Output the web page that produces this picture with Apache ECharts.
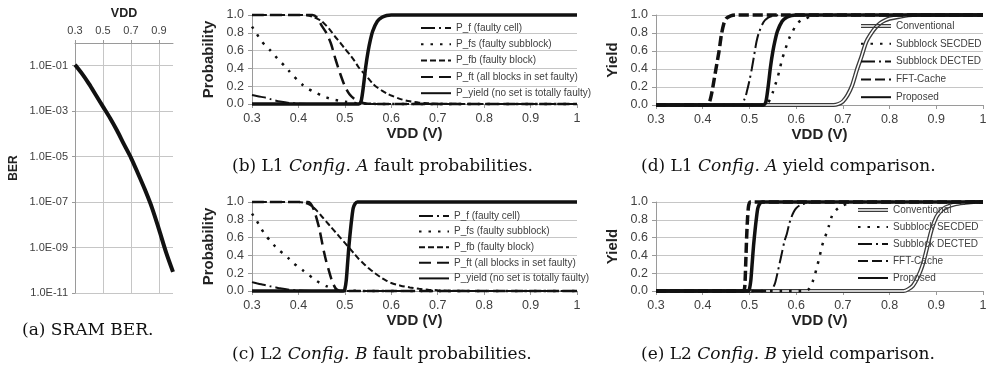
<!DOCTYPE html>
<html><head><meta charset="utf-8">
<script src="https://cdn.jsdelivr.net/npm/echarts/dist/echarts.min.js"></script>
<style>html,body{margin:0;padding:0;background:#fff}#c{width:990px;height:370px}</style>
</head><body><div id="c"></div>
<script>
// ---------- (a) SRAM BER ----------
const berVdd = [0.30,0.35,0.40,0.45,0.50,0.55,0.60,0.65,0.70,0.75,0.80,0.85,0.90,0.95,1.00];
const berValues = [1.1e-1,4.47e-2,1.58e-2,5.0e-3,1.58e-3,5.0e-4,1.41e-4,3.47e-5,8.9e-6,1.82e-6,3.47e-7,5.6e-8,6.3e-9,6.3e-10,8.5e-11];
const berTicks = ['1.0E-11','1.0E-09','1.0E-07','1.0E-05','1.0E-03','1.0E-01'];

// ---------- (b) L1 Config. A fault probabilities ----------
const l1_pf = [[0.30,0.10],[0.31,0.09],[0.32,0.08],[0.33,0.07],[0.34,0.055],[0.35,0.04],[0.36,0.028],[0.38,0.012],[0.40,0.004],[0.43,0.001],[0.46,0],[1.00,0]];
const l1_pfs = [[0.30,0.87],[0.31,0.79],[0.32,0.71],[0.33,0.65],[0.34,0.60],[0.35,0.54],[0.36,0.48],[0.37,0.43],[0.38,0.37],[0.39,0.31],[0.40,0.26],[0.41,0.21],[0.42,0.175],[0.43,0.145],[0.44,0.12],[0.45,0.095],[0.46,0.075],[0.47,0.058],[0.48,0.045],[0.49,0.034],[0.50,0.025],[0.52,0.012],[0.54,0.005],[0.57,0.001],[0.60,0],[1.00,0]];
const l1_pfb = [[0.30,1],[0.40,1],[0.42,0.995],[0.43,0.98],[0.44,0.96],[0.45,0.93],[0.46,0.88],[0.47,0.82],[0.48,0.75],[0.49,0.69],[0.50,0.62],[0.51,0.56],[0.52,0.49],[0.53,0.41],[0.54,0.35],[0.55,0.29],[0.56,0.23],[0.57,0.185],[0.58,0.15],[0.59,0.12],[0.60,0.095],[0.62,0.055],[0.64,0.03],[0.66,0.015],[0.68,0.008],[0.70,0.004],[0.75,0.001],[0.80,0],[1.00,0]];
const l1_pft = [[0.30,1],[0.43,1],[0.44,0.97],[0.45,0.88],[0.46,0.80],[0.47,0.68],[0.48,0.50],[0.49,0.34],[0.50,0.20],[0.51,0.11],[0.52,0.06],[0.53,0.03],[0.54,0.012],[0.55,0.004],[0.57,0],[1.00,0]];
const l1_yield = [[0.30,0],[0.53,0],[0.535,0.03],[0.54,0.20],[0.545,0.42],[0.55,0.59],[0.555,0.72],[0.56,0.82],[0.57,0.93],[0.58,0.975],[0.59,0.995],[0.60,1],[1.00,1]];

// ---------- (c) L2 Config. B fault probabilities ----------
const l2_pf = [[0.30,0.10],[0.31,0.087],[0.32,0.075],[0.33,0.065],[0.34,0.052],[0.35,0.042],[0.36,0.03],[0.38,0.014],[0.40,0.005],[0.43,0.001],[0.46,0],[1.00,0]];
const l2_pfs = [[0.30,0.87],[0.31,0.79],[0.32,0.70],[0.33,0.62],[0.34,0.56],[0.35,0.50],[0.36,0.45],[0.37,0.41],[0.38,0.36],[0.39,0.31],[0.40,0.27],[0.41,0.23],[0.42,0.19],[0.43,0.15],[0.44,0.11],[0.45,0.08],[0.46,0.055],[0.47,0.035],[0.48,0.02],[0.49,0.01],[0.50,0.005],[0.53,0.001],[0.56,0],[1.00,0]];
const l2_pfb = [[0.30,1],[0.40,1],[0.41,0.995],[0.42,0.98],[0.43,0.95],[0.44,0.90],[0.45,0.84],[0.46,0.78],[0.47,0.72],[0.48,0.66],[0.49,0.60],[0.50,0.54],[0.51,0.48],[0.52,0.42],[0.53,0.36],[0.54,0.31],[0.55,0.26],[0.56,0.22],[0.57,0.18],[0.58,0.145],[0.59,0.115],[0.60,0.09],[0.62,0.06],[0.64,0.04],[0.66,0.025],[0.68,0.015],[0.70,0.008],[0.72,0.004],[0.76,0.001],[0.80,0],[1.00,0]];
const l2_pft = [[0.30,1],[0.42,1],[0.425,0.99],[0.43,0.95],[0.435,0.89],[0.44,0.80],[0.445,0.70],[0.45,0.57],[0.455,0.44],[0.46,0.33],[0.465,0.24],[0.47,0.15],[0.475,0.08],[0.48,0.03],[0.485,0.01],[0.49,0],[1.00,0]];
const l2_yield = [[0.30,0],[0.498,0],[0.50,0.02],[0.503,0.12],[0.506,0.32],[0.509,0.52],[0.512,0.68],[0.515,0.82],[0.518,0.93],[0.522,0.98],[0.527,1],[1.00,1]];

// ---------- (d) L1 Config. A yield comparison ----------
const l1_conv = [[0.30,0],[0.68,0],[0.69,0.01],[0.70,0.04],[0.71,0.11],[0.72,0.22],[0.73,0.39],[0.74,0.54],[0.75,0.70],[0.76,0.79],[0.77,0.86],[0.78,0.91],[0.79,0.94],[0.80,0.96],[0.82,0.98],[0.85,1],[1.00,1]];
const l1_secded = [[0.30,0],[0.535,0],[0.54,0.02],[0.545,0.08],[0.55,0.14],[0.555,0.22],[0.56,0.30],[0.565,0.40],[0.57,0.51],[0.575,0.59],[0.58,0.67],[0.585,0.74],[0.59,0.79],[0.60,0.89],[0.61,0.94],[0.62,0.96],[0.63,0.98],[0.65,1],[1.00,1]];
const l1_dected = [[0.30,0],[0.48,0],[0.49,0.07],[0.495,0.16],[0.50,0.27],[0.505,0.40],[0.51,0.55],[0.515,0.70],[0.52,0.80],[0.53,0.92],[0.54,0.97],[0.55,0.99],[0.57,1],[1.00,1]];
const l1_fft = [[0.30,0],[0.41,0],[0.415,0.04],[0.42,0.15],[0.425,0.30],[0.43,0.45],[0.435,0.60],[0.44,0.78],[0.445,0.90],[0.45,0.96],[0.46,0.99],[0.47,1],[1.00,1]];
const l1_proposed = l1_yield;

// ---------- (e) L2 Config. B yield comparison ----------
const l2_conv = [[0.30,0],[0.83,0],[0.84,0.02],[0.85,0.06],[0.86,0.15],[0.87,0.28],[0.88,0.48],[0.89,0.69],[0.90,0.83],[0.91,0.90],[0.92,0.94],[0.94,0.975],[0.96,0.99],[0.98,1],[1.00,1]];
const l2_secded = [[0.30,0],[0.62,0],[0.625,0.01],[0.63,0.04],[0.635,0.10],[0.64,0.18],[0.645,0.28],[0.65,0.38],[0.655,0.50],[0.66,0.58],[0.665,0.65],[0.67,0.73],[0.675,0.82],[0.68,0.88],[0.69,0.93],[0.70,0.96],[0.715,0.99],[0.73,1],[1.00,1]];
const l2_dected = [[0.30,0],[0.545,0],[0.55,0.03],[0.555,0.09],[0.56,0.20],[0.565,0.32],[0.57,0.44],[0.575,0.56],[0.58,0.64],[0.585,0.75],[0.59,0.83],[0.595,0.89],[0.60,0.93],[0.61,0.97],[0.62,0.985],[0.64,1],[1.00,1]];
const l2_fft = [[0.30,0],[0.487,0],[0.49,0.05],[0.492,0.30],[0.494,0.60],[0.496,0.82],[0.498,0.95],[0.50,0.99],[0.502,1],[1.00,1]];
const l2_proposed = l2_yield;

const faultNames = ['P_f (faulty cell)','P_fs (faulty subblock)','P_fb (faulty block)','P_ft (all blocks in set faulty)','P_yield (no set is totally faulty)'];
const yieldNames = ['Conventional','Subblock SECDED','Subblock DECTED','FFT-Cache','Proposed'];
const captions = ['(a) SRAM BER.','(b) L1 {i|Config. A} fault probabilities.','(c) L2 {i|Config. B} fault probabilities.','(d) L1 {i|Config. A} yield comparison.','(e) L2 {i|Config. B} yield comparison.'];

// ---------- styles ----------
const SANS = 'Liberation Sans';
const SERIF = 'DejaVu Serif';
const INK = '#111';
const ST = {
  pf:   {color:INK, width:2, type:[14,4,2,4]},
  pfs:  {color:INK, width:2.5, type:[2.5,7]},
  pfb:  {color:INK, width:2, type:[6,3]},
  pft:  {color:INK, width:2.5, type:[12,6]},
  solid:{color:INK, width:3.5, type:'solid'},
  fft:  {color:INK, width:3.5, type:[10,4]},
  convOuter:{color:'#3a3a3a', width:4.2, type:'solid'},
  convInner:{color:'#ffffff', width:1.6, type:'solid'}
};

function ser(name, data, idx, ls) {
  return {
    name: name, type:'line', data: data, xAxisIndex: idx, yAxisIndex: idx,
    symbol:'none', smooth:0.25, clip:false, color: ls.color,
    lineStyle: {color: ls.color, width: ls.width, type: ls.type},
    emphasis:{disabled:true}, animation:false
  };
}

const gridBox = [
  {left:75, top:43, width:98, height:250},
  {left:252, top:15, width:325, height:89},
  {left:252, top:202, width:325, height:89},
  {left:656, top:15, width:327, height:90},
  {left:656, top:202, width:327, height:89}
];

const axisLineGrey = '#9a9a9a';
const gridGrey = '#c6c6c6';

function xProb(i) {
  return {gridIndex:i, type:'value', min:0.3, max:1, interval:0.1,
    name:'VDD (V)', nameLocation:'middle', nameGap:21,
    nameTextStyle:{fontFamily:SANS, fontSize:15, fontWeight:'bold', color:'#222'},
    axisLine:{show:true, onZero:false, lineStyle:{color:axisLineGrey}},
    axisTick:{show:true, length:4, lineStyle:{color:axisLineGrey}},
    axisLabel:{fontFamily:SANS, fontSize:12.5, color:'#404040', margin:8,
      formatter: v => Math.abs(v-1)<1e-6 ? '1' : v.toFixed(1)},
    splitLine:{show:false}};
}
function yProb(i, name) {
  return {gridIndex:i, type:'value', min:0, max:1, interval:0.2,
    name:name, nameLocation:'middle', nameGap:36,
    nameTextStyle:{fontFamily:SANS, fontSize:15, fontWeight:'bold', color:'#222'},
    axisLine:{show:true, lineStyle:{color:axisLineGrey}},
    axisTick:{show:true, length:4, lineStyle:{color:axisLineGrey}},
    axisLabel:{fontFamily:SANS, fontSize:12.5, color:'#404040', margin:8, formatter: v => v.toFixed(1)},
    splitLine:{show:true, lineStyle:{color:gridGrey}}};
}

const xAxes = [
  {gridIndex:0, type:'value', position:'top', min:0.3, max:1, interval:0.2,
    name:'VDD', nameLocation:'middle', nameGap:22,
    nameTextStyle:{fontFamily:SANS, fontSize:12.5, fontWeight:'bold', color:'#222'},
    axisLine:{show:true, onZero:false, lineStyle:{color:axisLineGrey}},
    axisTick:{show:true, length:3, lineStyle:{color:axisLineGrey}},
    axisLabel:{fontFamily:SANS, fontSize:11, color:'#404040', margin:7, showMaxLabel:false,
      formatter: v => v.toFixed(1)},
    splitLine:{show:true, showMaxLine:false, lineStyle:{color:gridGrey}}},
  xProb(1), xProb(2), xProb(3), xProb(4)
];
const yAxes = [
  {gridIndex:0, type:'value', min:-11, max:0, interval:2,
    name:'BER', nameLocation:'middle', nameGap:55,
    nameTextStyle:{fontFamily:SANS, fontSize:12, fontWeight:'bold', color:'#222'},
    axisLine:{show:true, onZero:false, lineStyle:{color:axisLineGrey}},
    axisTick:{show:true, length:3, lineStyle:{color:axisLineGrey}},
    axisLabel:{fontFamily:SANS, fontSize:11, color:'#404040', margin:7, showMaxLabel:false,
      formatter: v => { const k = Math.round((v + 11) / 2); return berTicks[k] || ''; }},
    splitLine:{show:true, lineStyle:{color:gridGrey}}},
  yProb(1,'Probability'), yProb(2,'Probability'), yProb(3,'Yield'), yProb(4,'Yield')
];

const berSeries = {
  name:'BER', type:'line', xAxisIndex:0, yAxisIndex:0, symbol:'none', smooth:0.3, clip:false,
  data: berVdd.map((v,i) => [v, Math.log10(berValues[i])]),
  lineStyle:{color:INK, width:4}, color:INK, emphasis:{disabled:true}, animation:false
};

const series = [
  berSeries,
  ser(faultNames[0], l1_pf, 1, ST.pf),
  ser(faultNames[1], l1_pfs, 1, ST.pfs),
  ser(faultNames[2], l1_pfb, 1, ST.pfb),
  ser(faultNames[3], l1_pft, 1, ST.pft),
  ser(faultNames[4], l1_yield, 1, ST.solid),
  ser(faultNames[0], l2_pf, 2, ST.pf),
  ser(faultNames[1], l2_pfs, 2, ST.pfs),
  ser(faultNames[2], l2_pfb, 2, ST.pfb),
  ser(faultNames[3], l2_pft, 2, ST.pft),
  ser(faultNames[4], l2_yield, 2, ST.solid),
  ser(yieldNames[0], l1_conv, 3, ST.convOuter),
  ser('conv-inner-d', l1_conv, 3, ST.convInner),
  ser(yieldNames[1], l1_secded, 3, ST.pfs),
  ser(yieldNames[2], l1_dected, 3, ST.pf),
  ser(yieldNames[3], l1_fft, 3, ST.fft),
  ser(yieldNames[4], l1_proposed, 3, ST.solid),
  ser(yieldNames[0], l2_conv, 4, ST.convOuter),
  ser('conv-inner-e', l2_conv, 4, ST.convInner),
  ser(yieldNames[1], l2_secded, 4, ST.pfs),
  ser(yieldNames[2], l2_dected, 4, ST.pf),
  ser(yieldNames[3], l2_fft, 4, ST.fft),
  ser(yieldNames[4], l2_proposed, 4, ST.solid)
];

const legendText = {fontFamily:SANS, fontSize:10, color:'#404040'};
function legendCfg(names, left, top, gap) {
  return {orient:'vertical', left:left, top:top, itemWidth:30, itemHeight:10, itemGap:gap, padding:0,
    textStyle:legendText, selectedMode:false, itemStyle:{opacity:0},
    data: names.map(n => n === 'Conventional'
      ? {name:n, icon:'path://M0,0H30V1.3H0Z M0,2.9H30V4.2H0Z', itemStyle:{opacity:1, color:'#3a3a3a'}} : {name:n})};
}

const capStyle = {fontFamily:SERIF, fontSize:17, fontWeight:'normal', color:INK,
  rich:{i:{fontFamily:SERIF, fontSize:17, fontStyle:'italic', color:INK}}};
const capPos = [[22,322],[232,158],[232,346],[641,158],[641,346]];

const option = {
  animation:false,
  backgroundColor:'#fff',
  title: captions.map((t,i) => ({text:t, left:capPos[i][0], top:capPos[i][1], padding:0, textStyle:capStyle})),
  grid: gridBox.map(g => Object.assign({containLabel:false}, g)),
  xAxis: xAxes,
  yAxis: yAxes,
  legend: [
    legendCfg(faultNames, 420, 23, 6.3),
    legendCfg(faultNames, 418, 211, 5.6),
    legendCfg(yieldNames, 860, 21, 7.8),
    legendCfg(yieldNames, 857, 205, 7)
  ],
  series: series
};

const chart = echarts.init(document.getElementById('c'), null, {renderer:'canvas'});
chart.setOption(option);
</script></body></html>
